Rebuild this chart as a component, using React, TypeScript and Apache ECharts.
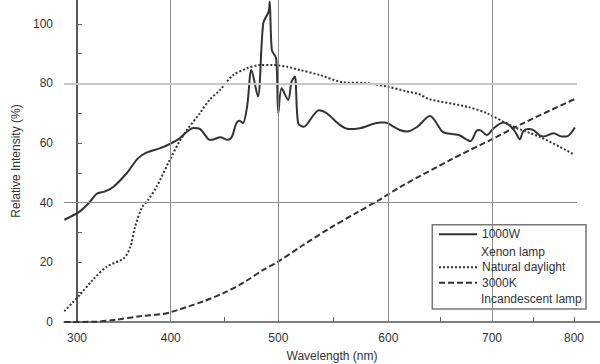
import React, { useEffect, useRef } from "react";
import * as echarts from "echarts";

// Printed axis: labelled wavelengths and the printed width of each 100 nm span
const AXIS_NM = [300, 400, 500, 600, 700, 800];
const AXIS_SEGMENT_WIDTH = [93.7, 107.6, 110, 103.7, 82];
const X_TICK_NM = [400, 450, 500, 550, 600, 650, 700, 750, 800];
const X_GRID_NM = [400, 500, 600, 700];
const X_MIN_NM = 286.1;
const X_GRID_END_NM = 803.7;
const X_MAX_NM = 831.7;

const Y_LABELS = [0, 20, 40, 60, 80, 100];
const Y_TICKS = [0, 10, 20, 30, 40, 50, 60, 70, 80, 90, 100];
const Y_GRID = [40, 80];

const SERIES_NAMES = ["1000W", "Natural daylight", "3000K"];
const SECOND_LINES = ["Xenon lamp", "", "Incandescent lamp"];

const XENON_NM = [
  286.5, 303, 314, 321, 330, 339, 353, 365, 374, 389, 399, 408, 415, 421, 427, 435, 438, 446, 453, 457,
  461, 464, 467, 471, 475, 481, 486, 491, 492, 494, 498, 500, 503, 509, 512, 515, 518, 523, 532, 537,
  544, 556, 564, 574, 593, 597, 605, 611, 618, 628, 640, 652, 656, 668, 679, 685, 688, 695, 702, 714,
  722, 728, 734, 738, 744, 750, 759, 763, 775, 785, 791, 801,
];
const XENON_VAL = [
  34.3, 37.1, 40.4, 43.0, 43.8, 45.4, 49.9, 54.9, 56.8, 58.3, 59.7, 61.5, 63.8, 65.1, 64.8, 61.3, 61.1, 62.0, 61.1, 62.2,
  66.7, 67.5, 66.7, 72.3, 84.5, 75.6, 100.2, 104.1, 107.4, 91.2, 88.4, 70.0, 78.4, 74.5, 80.6, 82.3, 66.7, 65.5, 69.4, 71.0,
  70.0, 66.1, 64.7, 65.0, 66.9, 66.9, 65.5, 64.4, 63.9, 65.5, 69.1, 63.9, 63.3, 62.7, 60.7, 64.1, 64.4, 62.7, 65.0, 66.9,
  65.8, 63.9, 61.3, 63.9, 64.7, 64.4, 62.4, 62.2, 63.3, 62.2, 62.2, 65.2,
];

const DAYLIGHT_NM = [
  286.5, 303, 317, 332, 350, 357, 362, 369, 376, 385, 399, 409, 415, 427, 436, 446, 458, 471, 483, 495,
  508, 520, 538, 559, 580, 600, 618, 629, 640, 676, 695, 726, 759, 800,
];
const DAYLIGHT_VAL = [
  3.6, 9.1, 14.2, 18.6, 21.4, 25.3, 32.0, 38.2, 41.0, 45.4, 54.4, 61.1, 64.4, 70.0, 74.5, 77.9, 82.8, 85.1, 86.2, 86.2,
  85.6, 84.5, 82.8, 80.4, 80.1, 78.9, 77.3, 76.5, 74.7, 72.2, 70.0, 65.5, 62.0, 56.2,
];

const INCAND_NM = [286.5, 320, 342, 367, 389, 400, 430, 449, 468, 486, 500, 523, 547, 571, 592, 611, 660, 702, 742, 801];
const INCAND_VAL = [0, 0.1, 0.8, 1.9, 2.6, 3.3, 6.9, 9.7, 13.3, 17.5, 20.3, 25.9, 31.5, 36.6, 41.0, 45.2, 54.4, 61.6, 67.2, 74.8];

function warp(nm: number): number {
  if (nm <= AXIS_NM[0]) return ((nm - AXIS_NM[0]) / 100) * AXIS_SEGMENT_WIDTH[0];
  let pos = 0;
  const n = AXIS_SEGMENT_WIDTH.length;
  for (let i = 0; i < n; i++) {
    const a = AXIS_NM[i];
    const b = AXIS_NM[i + 1];
    const w = AXIS_SEGMENT_WIDTH[i];
    if (nm <= b || i === n - 1) return pos + ((nm - a) / (b - a)) * w;
    pos += w;
  }
  return pos;
}

function toPoints(nms: number[], vals: number[]) {
  return nms.map((nm, i) => [warp(nm), vals[i]]);
}

const FONT = "'Liberation Sans', Arial, Helvetica, sans-serif";
const INK = "#333";

export default function App() {
  const ref = useRef<HTMLDivElement>(null);

  useEffect(() => {
    if (!ref.current) return;
    const chart = echarts.init(ref.current, undefined, { renderer: "svg" });
    const labelPos = AXIS_NM.map(warp);

    const gridLineData: any[] = [
      ...X_GRID_NM.map((nm) => ({ xAxis: warp(nm), lineStyle: { color: "#8c8c8c", width: 1, type: "solid" } })),
      ...Y_GRID.map((v, i) => [
        {
          coord: [warp(X_MIN_NM), v],
          lineStyle: i === 0 ? { color: "#8c8c8c", width: 1, type: "solid" } : { color: "#c8c8c8", width: 2, type: "solid" },
        },
        { coord: [warp(X_GRID_END_NM), v] },
      ]),
    ];

    const option: any = {
      animation: false,
      textStyle: { fontFamily: FONT },
      grid: { left: 64, right: 0, top: 0, bottom: 42, containLabel: false, outerBoundsMode: "none" },
      xAxis: {
        type: "value",
        min: warp(X_MIN_NM),
        max: warp(X_MAX_NM),
        name: "Wavelength (nm)",
        nameLocation: "middle",
        nameGap: 28,
        nameTextStyle: { fontSize: 12, color: INK, fontFamily: FONT },
        axisLine: { show: true, onZero: false, lineStyle: { color: "#555", width: 1.5 } },
        axisTick: {
          show: true,
          inside: true,
          length: 5,
          customValues: X_TICK_NM.map(warp),
          lineStyle: { color: "#666", width: 1 },
        },
        axisLabel: {
          customValues: labelPos,
          margin: 10,
          fontSize: 12,
          color: INK,
          fontFamily: FONT,
          formatter: (v: number) => {
            const idx = labelPos.findIndex((p) => Math.abs(p - v) < 0.01);
            return idx >= 0 ? String(AXIS_NM[idx]) : "";
          },
        },
        splitLine: { show: false },
      },
      yAxis: {
        type: "value",
        min: 0,
        max: 108,
        name: "Relative Intensity (%)",
        nameLocation: "middle",
        nameGap: 41,
        nameTextStyle: { fontSize: 12, color: INK, fontFamily: FONT },
        axisLine: { show: true, lineStyle: { color: "#222", width: 1.5 } },
        axisTick: {
          show: true,
          inside: true,
          length: 5,
          customValues: Y_TICKS,
          lineStyle: { color: "#666", width: 1 },
        },
        axisLabel: {
          customValues: Y_LABELS,
          margin: 11,
          fontSize: 12,
          color: INK,
          fontFamily: FONT,
        },
        splitLine: { show: false },
      },
      legend: {
        orient: "vertical",
        left: 438,
        top: 207.3,
        padding: 0,
        itemGap: 0,
        itemWidth: 38,
        itemHeight: 10,
        z: 10,
        selectedMode: false,
        itemStyle: { opacity: 0 },
        textStyle: { fontSize: 12, color: INK, fontFamily: FONT },
        data: [
          { name: SERIES_NAMES[0], textStyle: { lineHeight: 54 } },
          { name: SERIES_NAMES[1], textStyle: { lineHeight: 12 } },
          { name: SERIES_NAMES[2], textStyle: { lineHeight: 18.8 } },
        ],
      },
      graphic: [
        {
          type: "rect",
          z: 5,
          shape: { x: 432.3, y: 224.7, width: 153.7, height: 84.3 },
          style: { fill: "#fff", stroke: "#777", lineWidth: 1.5 },
        },
        {
          type: "text",
          z: 11,
          x: 481,
          y: 252.3,
          style: { text: SECOND_LINES[0], fontSize: 12, fontFamily: FONT, fill: INK, align: "left", verticalAlign: "middle" },
        },
        {
          type: "text",
          z: 11,
          x: 481,
          y: 299.3,
          style: { text: SECOND_LINES[2], fontSize: 12, fontFamily: FONT, fill: INK, align: "left", verticalAlign: "middle" },
        },
      ],
      series: [
        {
          type: "line",
          name: "gridlines",
          data: [],
          z: 1,
          silent: true,
          markLine: {
            silent: true,
            symbol: ["none", "none"],
            label: { show: false },
            animation: false,
            data: gridLineData,
          },
        },
        {
          type: "line",
          name: SERIES_NAMES[0],
          data: toPoints(XENON_NM, XENON_VAL),
          symbol: "none",
          smooth: 0.3,
          z: 3,
          lineStyle: { color: INK, width: 2, type: "solid" },
          itemStyle: { color: INK },
        },
        {
          type: "line",
          name: SERIES_NAMES[1],
          data: toPoints(DAYLIGHT_NM, DAYLIGHT_VAL),
          symbol: "none",
          smooth: 0.3,
          z: 3,
          lineStyle: { color: INK, width: 2, type: [2, 2] },
          itemStyle: { color: INK },
        },
        {
          type: "line",
          name: SERIES_NAMES[2],
          data: toPoints(INCAND_NM, INCAND_VAL),
          symbol: "none",
          smooth: 0.3,
          z: 3,
          lineStyle: { color: INK, width: 2, type: [6, 3] },
          itemStyle: { color: INK },
        },
      ],
    };

    chart.setOption(option);
    return () => chart.dispose();
  }, []);

  return (
    <div
      ref={ref}
      style={{ position: "fixed", left: 0, top: 0, width: 600, height: 364, background: "#fff" }}
    />
  );
}
